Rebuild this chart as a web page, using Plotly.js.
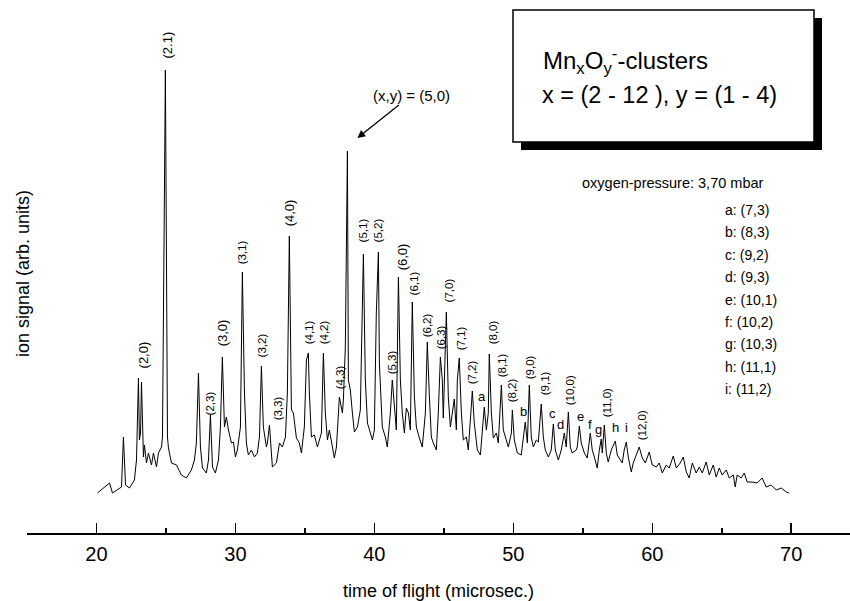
<!DOCTYPE html>
<html>
<head>
<meta charset="utf-8">
<script src="https://cdn.plot.ly/plotly-3.0.1.min.js"></script>
<style>html,body{margin:0;padding:0;background:#fff;overflow:hidden}#chart{width:850px;height:601px}</style>
</head>
<body>
<div id="chart"></div>
<script>
// time of flight (microsec.)
const tof = [20.07,20.94,21.15,21.80,21.94,22.09,22.37,22.73,22.88,23.02,23.09,23.17,23.24,23.38,23.45,23.60,23.74,23.96,24.10,24.32,24.46,24.68,24.75,24.96,25.11,25.18,25.40,25.76,26.11,26.47,26.83,27.05,27.19,27.34,27.48,27.63,27.91,28.06,28.20,28.35,28.56,28.78,28.92,29.06,29.21,29.35,29.50,29.71,29.86,30.00,30.14,30.36,30.50,30.65,30.79,30.93,31.15,31.37,31.58,31.73,31.87,32.01,32.23,32.30,32.45,32.59,32.66,32.95,33.17,33.38,33.60,33.74,33.88,34.03,34.17,34.39,34.60,34.75,34.96,35.11,35.25,35.32,35.47,35.68,35.90,36.19,36.33,36.47,36.62,36.76,36.98,37.12,37.27,37.48,37.70,37.77,37.91,38.06,38.13,38.27,38.42,38.56,38.78,38.99,39.21,39.35,39.50,39.86,40.00,40.14,40.29,40.36,40.57,40.79,40.93,41.15,41.29,41.51,41.58,41.73,41.87,42.01,42.16,42.30,42.45,42.59,42.73,42.88,43.02,43.24,43.45,43.67,43.81,43.96,44.10,44.24,44.46,44.60,44.75,44.89,44.96,45.18,45.32,45.47,45.61,45.75,45.90,45.97,46.11,46.26,46.40,46.62,46.76,46.91,47.05,47.19,47.41,47.63,47.77,47.91,48.06,48.20,48.27,48.42,48.56,48.78,48.92,49.14,49.28,49.50,49.64,49.86,49.93,50.07,50.29,50.57,50.72,50.86,51.01,51.15,51.29,51.44,51.65,51.80,52.01,52.16,52.30,52.52,52.73,52.88,53.02,53.24,53.45,53.67,53.81,53.96,54.10,54.24,54.53,54.60,54.75,54.89,55.11,55.32,55.54,55.68,55.83,56.04,56.19,56.33,56.40,56.55,56.69,56.83,57.05,57.34,57.48,57.63,57.84,57.98,58.13,58.27,58.49,58.63,58.85,59.06,59.28,59.50,59.78,60.00,60.29,60.50,60.72,61.01,61.22,61.51,61.73,62.01,62.23,62.45,62.66,62.88,63.16,63.38,63.60,63.88,64.10,64.39,64.60,64.82,65.03,65.32,65.54,65.83,65.97,66.11,66.40,66.62,66.83,67.19,67.55,67.91,68.20,68.56,68.92,69.28,69.64,69.86];
// ion signal (arb. units)
const signal = [7,17,7,13,63,15,12,20,40,122,60,67,118,43,55,37,47,35,47,33,47,53,63,430,63,52,37,35,25,22,30,40,57,127,53,32,27,40,85,33,27,40,73,143,73,83,70,57,58,43,50,73,228,107,57,45,50,43,47,63,134,73,53,57,75,50,33,37,57,53,63,107,264,90,87,62,57,47,73,140,147,107,63,65,53,67,147,87,60,70,52,42,53,103,87,100,153,349,120,110,87,68,73,90,246,120,77,60,70,187,248,137,73,63,53,87,120,87,70,223,120,87,67,92,87,70,198,103,73,62,53,87,158,103,63,57,50,87,143,120,82,188,103,73,87,101,70,120,142,87,60,63,50,87,109,77,50,45,73,93,70,87,146,87,62,67,57,115,70,60,53,67,90,60,47,45,60,78,57,115,63,53,60,58,96,63,50,43,50,76,50,40,50,67,53,88,53,47,50,53,74,57,47,42,67,50,43,32,50,61,47,75,47,38,50,59,45,42,37,50,58,43,28,37,45,53,42,37,48,35,33,37,27,35,32,44,32,37,43,28,22,37,27,33,27,38,25,35,23,32,25,30,22,25,13,25,22,27,18,18,17,22,13,15,10,12,8,7];

// peak labels (text, tof position, signal position, big flag)
const peakLabels = ["(2,0)","(2.1)","(2,3)","(3,0)","(3,1)","(3,2)","(3,3)","(4,0)","(4,1)","(4,2)","(4,3)","(5,1)","(5,2)","(5,3)","(6,0)","(6,1)","(6,2)","(6,3)","(7,0)","(7,1)","(7,2)","(8,0)","(8,1)","(8,2)","(9,0)","(9,1)","(10,0)","(11,0)","(12,0)"];
const peakLabelX = [23.38,25.04,28.20,29.06,30.50,31.94,33.09,33.88,35.32,36.40,37.55,39.21,40.29,41.29,42.01,42.88,43.81,44.82,45.40,46.26,47.05,48.56,49.21,49.93,51.22,52.30,54.10,56.76,59.28];
const peakLabelY = [145,455,97,167,248,155,92,287,168,168,123,270,270,138,243,217,175,163,210,162,128,168,135,110,133,117,110,97,75];
const peakLabelBig = [1,1,0,1,0,0,0,1,0,0,0,0,0,0,1,0,0,0,0,0,0,0,0,0,0,0,0,0,0];

// letter labels
const letterLabels = ["a","b","c","d","e","f","g","h","i"];
const letterX = [47.77,50.72,52.80,53.38,54.82,55.54,56.11,57.34,58.13];
const letterY = [104,89,87,76,84,76,71,73,73];
const letterMeaning = ["(7,3)","(8,3)","(9,2)","(9,3)","(10,1)","(10,2)","(10,3)","(11,1)","(11,2)"];

const FONT = "Liberation Sans, Arial, Helvetica, sans-serif";
const W = 823, H = 523; // plot area size in px
const px = v => (v - 27) / W;
const py = v => (533 - v) / H;

const annotations = [];
peakLabels.forEach((t, i) => {
  annotations.push({x: peakLabelX[i], y: peakLabelY[i], xref: 'x', yref: 'y', text: t,
    showarrow: false, textangle: -90, xanchor: 'center', yanchor: 'middle',
    font: {family: FONT, size: peakLabelBig[i] ? 13 : 11.5, color: '#000'}});
});
letterLabels.forEach((t, i) => {
  annotations.push({x: letterX[i], y: letterY[i], xref: 'x', yref: 'y', text: t,
    showarrow: false, xanchor: 'center', yanchor: 'middle',
    font: {family: FONT, size: 13, color: '#000'}});
});
// arrow annotation
annotations.push({x: 38.78, y: 362, xref: 'x', yref: 'y', text: '(x,y) = (5,0)',
  showarrow: true, arrowhead: 2, arrowsize: 1.2, arrowwidth: 1.3, arrowcolor: '#000',
  ax: 54, ay: -43, font: {family: FONT, size: 15, color: '#000'}});
// box text
annotations.push({x: px(541), y: py(61), xref: 'paper', yref: 'paper', xanchor: 'left', yanchor: 'middle',
  text: 'Mn<sub>x</sub>O<sub>y</sub><sup>-</sup>-clusters', showarrow: false,
  font: {family: FONT, size: 24, color: '#000'}});
annotations.push({x: px(540), y: py(95), xref: 'paper', yref: 'paper', xanchor: 'left', yanchor: 'middle',
  text: 'x = (2 - 12 ), y = (1 - 4)', showarrow: false,
  font: {family: FONT, size: 23.5, color: '#000'}});
annotations.push({x: px(580), y: py(183), xref: 'paper', yref: 'paper', xanchor: 'left', yanchor: 'middle',
  text: 'oxygen-pressure: 3,70 mbar', showarrow: false,
  font: {family: FONT, size: 14.5, color: '#000'}});
letterLabels.forEach((t, i) => {
  annotations.push({x: px(723), y: py(210 + i * 22.4), xref: 'paper', yref: 'paper', xanchor: 'left', yanchor: 'middle',
    text: t + ': ' + letterMeaning[i], showarrow: false,
    font: {family: FONT, size: 14, color: '#000'}});
});
// y-axis title
annotations.push({x: px(23), y: py(274), xref: 'paper', yref: 'paper', xanchor: 'center', yanchor: 'middle',
  text: 'ion signal (arb. units)', textangle: -90, showarrow: false,
  font: {family: FONT, size: 18, color: '#000'}});

const shapes = [
  {type: 'rect', xref: 'paper', yref: 'paper', x0: px(521), x1: px(822), y0: py(150), y1: py(18),
   fillcolor: '#000', line: {width: 0}, layer: 'above'},
  {type: 'rect', xref: 'paper', yref: 'paper', x0: px(513), x1: px(814), y0: py(142), y1: py(10),
   fillcolor: '#fff', line: {color: '#000', width: 1.5}, layer: 'above'}
];

const trace = {x: tof, y: signal, type: 'scatter', mode: 'lines',
  line: {color: '#000', width: 1}, hoverinfo: 'skip'};

const layout = {
  width: 850, height: 601,
  margin: {l: 27, r: 0, t: 10, b: 68},
  paper_bgcolor: '#fff', plot_bgcolor: '#fff',
  showlegend: false,
  font: {family: FONT, color: '#000'},
  xaxis: {range: [15, 74.23], showgrid: false, zeroline: false,
    showline: true, linecolor: '#000', linewidth: 2,
    ticks: 'inside', ticklen: 10, tickwidth: 1.5, tickcolor: '#000', dtick: 10, tick0: 0,
    ticklabelstandoff: 2,
    minor: {ticks: 'inside', ticklen: 5, tickwidth: 1.5, tickcolor: '#000', dtick: 5, tick0: 0, showgrid: false},
    tickfont: {family: FONT, size: 20, color: '#000'},
    title: {text: 'time of flight (microsec.)', font: {family: FONT, size: 18, color: '#000'}, standoff: 20}},
  yaxis: {visible: false, range: [-33, 490]},
  annotations: annotations,
  shapes: shapes
};

Plotly.newPlot('chart', [trace], layout, {displayModeBar: false, staticPlot: true});
</script>
</body>
</html>
